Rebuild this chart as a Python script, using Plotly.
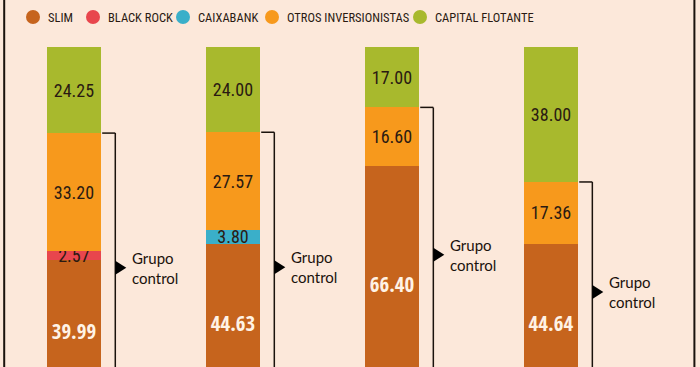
import plotly.graph_objects as go

# ---- data ----
categories = ["Empresa 1", "Empresa 2", "Empresa 3", "Empresa 4"]
series_names = ["SLIM", "BLACK ROCK", "CAIXABANK", "OTROS INVERSIONISTAS", "CAPITAL FLOTANTE"]
slim = [39.99, 44.63, 66.40, 44.64]
black_rock = [2.57, 0, 0, 0]
caixabank = [0, 3.80, 0, 0]
otros = [33.20, 27.57, 16.60, 17.36]
capital_flotante = [24.25, 24.00, 17.00, 38.00]
group_label = "Grupo<br>control"

# ---- styles ----
colors = ["#C6641D", "#E8464D", "#3AAFC9", "#F7991C", "#A8B92D"]
text_colors = ["#FFF3E6", "#2A1A12", "#2A1A12", "#2A1A12", "#2A1A12"]
BG = "#FCE8DA"
NUM_FONT = "Roboto Condensed, DejaVu Sans Condensed, sans-serif"
BOLD_FONT = "Open Sans Condensed, Roboto Condensed, sans-serif"
TXT_FONT = "Lato, Open Sans, sans-serif"

all_series = [slim, black_rock, caixabank, otros, capital_flotante]
xs = list(range(len(categories)))
bar_w = 0.335

fig = go.Figure()
for name, vals, col, tcol in zip(series_names, all_series, colors, text_colors):
    bold = name == "SLIM"
    fig.add_trace(go.Bar(
        x=xs, y=vals, name=name, width=bar_w,
        marker=dict(color=col, line=dict(width=0)),
        text=[f"{v:.2f}" if v else "" for v in vals],
        textposition="inside", insidetextanchor="middle",
        textangle=0, constraintext="none",
        textfont=dict(family=BOLD_FONT if bold else NUM_FONT, size=21 if bold else 18,
                      color=tcol, weight=700 if bold else 400),
        showlegend=False, hoverinfo="skip",
    ))

shapes = []
annotations = []
# frame lines
for xp in (0.006, 0.992):
    shapes.append(dict(type="line", xref="paper", yref="paper", x0=xp, x1=xp, y0=-0.1, y1=1.2,
                       line=dict(color="#1A120C", width=2)))

# brackets "Grupo control"
for i in xs:
    top = slim[i] + black_rock[i] + caixabank[i] + otros[i]
    bx = i + 0.26
    shapes.append(dict(type="line", xref="x", yref="y", x0=i + bar_w / 2 + 0.01, x1=bx,
                       y0=top, y1=top, line=dict(color="#1A120C", width=1.5)))
    shapes.append(dict(type="line", xref="x", yref="y", x0=bx, x1=bx,
                       y0=top, y1=0, line=dict(color="#1A120C", width=1.5)))
    shapes.append(dict(type="path", xref="x", yref="y", xsizemode="pixel", ysizemode="pixel",
                       xanchor=bx, yanchor=top / 2,
                       path="M 0,-7 L 11,0 L 0,7 Z",
                       fillcolor="#000000", line=dict(width=0)))
    annotations.append(dict(x=bx, y=top / 2, xref="x", yref="y", xshift=15, yshift=0,
                            text=group_label, showarrow=False, xanchor="left", yanchor="middle",
                            align="left", font=dict(family=TXT_FONT, size=15, color="#1A120C")))

# legend (manual)
legend_x = [33, 93, 183, 272, 420]
for name, col, lx in zip(series_names, colors, legend_x):
    shapes.append(dict(type="circle", xref="paper", yref="paper",
                       x0=(lx - 7) / 700, x1=(lx + 7) / 700,
                       y0=1 + (47 - 17 - 7) / 320,
                       y1=1 + (47 - 17 + 7) / 320,
                       fillcolor=col, line=dict(width=0)))
    annotations.append(dict(x=(lx + 13) / 700, y=1 + (47 - 17) / 320, xref="paper", yref="paper",
                            text=name, showarrow=False, xanchor="left", yanchor="middle",
                            font=dict(family=NUM_FONT, size=12.5, color="#2A1A12")))

fig.update_layout(
    width=700, height=367,
    barmode="stack",
    paper_bgcolor=BG, plot_bgcolor=BG,
    margin=dict(l=0, r=0, t=47, b=0),
    xaxis=dict(range=[-0.465, 3.937], visible=False, fixedrange=True),
    yaxis=dict(range=[9.9, 100], visible=False, fixedrange=True),
    shapes=shapes, annotations=annotations,
    showlegend=False,
)

fig.write_html("out.html", config={"displayModeBar": False},
               post_script="document.body.style.margin='0';")
